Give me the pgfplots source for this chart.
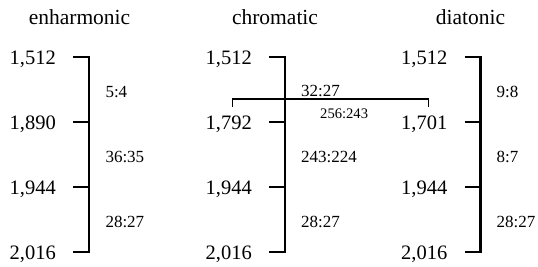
\documentclass[border=0pt]{standalone}
\usepackage{fontspec}
\setmainfont{Liberation Serif}
\usepackage{pgfplots}
\pgfplotsset{compat=1.18}
\tikzset{
  num/.style={anchor=base east, inner sep=0pt, font=\fontsize{20.5}{24}\selectfont},
  rat/.style={anchor=base west, inner sep=0pt, font=\fontsize{17}{20}\selectfont},
  ttl/.style={anchor=base, inner sep=0pt, font=\fontsize{21.5}{24}\selectfont},
}
\begin{document}
\begin{tikzpicture}
\begin{axis}[
  width=538pt, height=267pt, scale only axis,
  xmin=0, xmax=538, ymin=0, ymax=267, y dir=reverse,
  hide axis, clip=false,
]
\path (axis cs:0,0) rectangle (axis cs:538,267);
% panel outlines
\addplot[black, line width=2.2pt, line join=miter] coordinates {(73.3,56.7) (89.3,56.7) (89.3,252) (73.3,252)};
\addplot[black, line width=2.2pt] coordinates {(73.3,121.7) (89.3,121.7)};
\addplot[black, line width=2.2pt] coordinates {(73.3,186.9) (89.3,186.9)};
\addplot[black, line width=2.2pt, line join=miter] coordinates {(269,56.7) (285,56.7) (285,252) (269,252)};
\addplot[black, line width=2.2pt] coordinates {(269,121.7) (285,121.7)};
\addplot[black, line width=2.2pt] coordinates {(269,186.9) (285,186.9)};
\addplot[black, line width=2.2pt, line join=miter] coordinates {(464.5,56.7) (480.5,56.7) (480.5,252) (464.5,252)};
\addplot[black, line width=2.2pt] coordinates {(464.5,121.7) (480.5,121.7)};
\addplot[black, line width=2.2pt] coordinates {(464.5,186.9) (480.5,186.9)};
% bracket
\addplot[black, line width=1.5pt, line join=miter] coordinates {(232.3,107) (232.3,99) (428.3,99) (428.3,107)};
% titles
\node[ttl] at (axis cs:79.5,25) {enharmonic};
\node[ttl] at (axis cs:275,25) {chromatic};
\node[ttl] at (axis cs:470.5,25) {diatonic};
% numbers
\node[num] at (axis cs:56,64.2) {1,512};
\node[num] at (axis cs:56,129.2) {1,890};
\node[num] at (axis cs:56,194.4) {1,944};
\node[num] at (axis cs:56,259.5) {2,016};
\node[num] at (axis cs:252,64.2) {1,512};
\node[num] at (axis cs:252,129.2) {1,792};
\node[num] at (axis cs:252,194.4) {1,944};
\node[num] at (axis cs:252,259.5) {2,016};
\node[num] at (axis cs:447.5,64.2) {1,512};
\node[num] at (axis cs:447.5,129.2) {1,701};
\node[num] at (axis cs:447.5,194.4) {1,944};
\node[num] at (axis cs:447.5,259.5) {2,016};
% ratios
\node[rat] at (axis cs:105.3,97.5) {5:4};
\node[rat] at (axis cs:105.3,163) {36:35};
\node[rat] at (axis cs:105.3,227.8) {28:27};
\node[rat] at (axis cs:301,96.5) {32:27};
\node[rat] at (axis cs:301,163) {243:224};
\node[rat] at (axis cs:301,227.8) {28:27};
\node[rat] at (axis cs:496.5,97.5) {9:8};
\node[rat] at (axis cs:496.5,163) {8:7};
\node[rat] at (axis cs:496.5,227.8) {28:27};
\node[anchor=base west, inner sep=0pt, font=\fontsize{14.6}{17}\selectfont] at (axis cs:320,119) {256:243};
\end{axis}
\end{tikzpicture}
\end{document}
